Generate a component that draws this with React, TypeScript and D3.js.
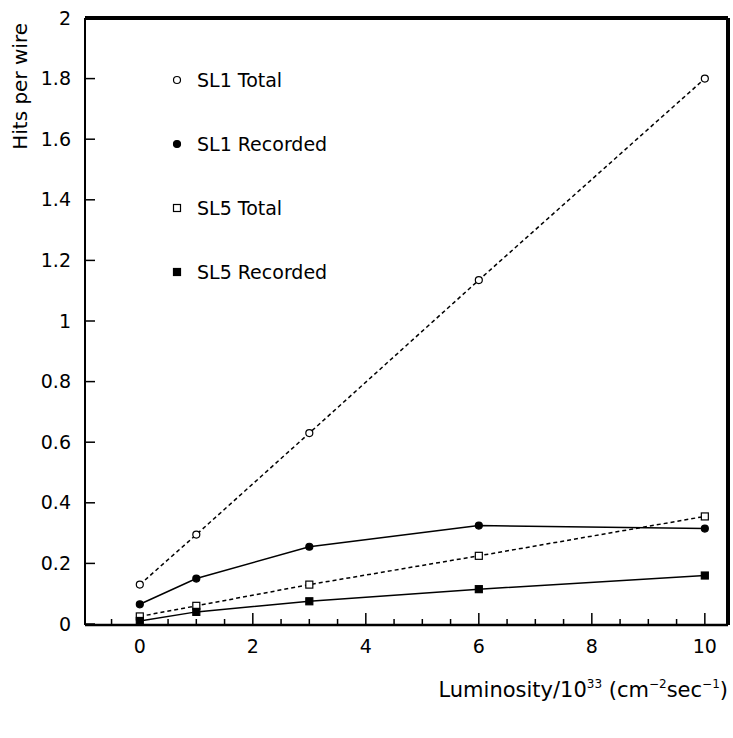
import React from "react";
import * as d3 from "d3";

const lum = [0, 1, 3, 6, 10];
const sl1Total = [0.13, 0.295, 0.63, 1.135, 1.8];
const sl1Rec = [0.065, 0.15, 0.255, 0.325, 0.315];
const sl5Total = [0.025, 0.06, 0.13, 0.225, 0.355];
const sl5Rec = [0.01, 0.04, 0.075, 0.115, 0.16];
const xTicks = [0, 2, 4, 6, 8, 10];
const yTicks = [0, 0.2, 0.4, 0.6, 0.8, 1, 1.2, 1.4, 1.6, 1.8, 2];

export default function App() {
  const L = 85, R = 728, T = 18, B = 625;
  const x = d3.scaleLinear().domain([-0.97, 10.41]).range([L, R]);
  const y = d3.scaleLinear().domain([0, 2]).range([B - 1, T]);
  const line = (ys: number[]) =>
    d3.line<number>().x((_, i) => x(lum[i])).y((v) => y(v))(ys) || "";
  const font = "'DejaVu Sans', sans-serif";
  const series = [
    { ys: sl1Total, dash: "4,3", mk: "oc", label: "SL1 Total" },
    { ys: sl1Rec, dash: "", mk: "fc", label: "SL1 Recorded" },
    { ys: sl5Total, dash: "4,3", mk: "os", label: "SL5 Total" },
    { ys: sl5Rec, dash: "", mk: "fs", label: "SL5 Recorded" },
  ];
  const marker = (mk: string, cx: number, cy: number, k: any) =>
    mk[1] === "c" ? (
      <circle key={k} cx={cx} cy={cy} r={3.5} fill={mk[0] === "f" ? "#000" : "#fff"} stroke="#000" strokeWidth={1.2} />
    ) : (
      <rect key={k} x={cx - 3.5} y={cy - 3.5} width={7} height={7} fill={mk[0] === "f" ? "#000" : "#fff"} stroke="#000" strokeWidth={1.2} />
    );
  return (
    <svg width={733} height={738} style={{ position: "absolute", left: 0, top: 0, background: "#fff" }} fontFamily={font}>
      <rect width={733} height={738} fill="#fff" />
      <line x1={L} y1={T} x2={R} y2={T} stroke="#000" strokeWidth={4} />
      <line x1={R} y1={T} x2={R} y2={B} stroke="#000" strokeWidth={4} />
      <line x1={L} y1={T} x2={L} y2={B} stroke="#000" strokeWidth={2} />
      <line x1={L} y1={B} x2={R} y2={B} stroke="#000" strokeWidth={2.5} />
      {yTicks.map((t) => (
        <g key={t}>
          <line x1={L} x2={L + 10} y1={y(t)} y2={y(t)} stroke="#000" strokeWidth={1.5} />
          <text x={L - 14} y={y(t)} dy="0.35em" textAnchor="end" fontSize={19}>{t}</text>
        </g>
      ))}
      {d3.range(-0.5, 10.5, 0.5).map((t) => (
        <line key={t} x1={x(t)} x2={x(t)} y1={B} y2={B - (t % 2 === 0 ? 12 : 6)} stroke="#000" strokeWidth={1.5} />
      ))}
      {xTicks.map((t) => (
        <text key={t} x={x(t)} y={B + 28} textAnchor="middle" fontSize={19}>{t}</text>
      ))}
      <text transform={`translate(27,${T + 5}) rotate(-90)`} textAnchor="end" fontSize={20}>Hits per wire</text>
      <text x={728} y={697} textAnchor="end" fontSize={21}>
        Luminosity/10<tspan dy={-9} fontSize={12}>33</tspan>
        <tspan dy={9}> (cm</tspan><tspan dy={-9} fontSize={12}>−2</tspan>
        <tspan dy={9}>sec</tspan><tspan dy={-9} fontSize={12}>−1</tspan><tspan dy={9}>)</tspan>
      </text>
      {series.map((s, si) => (
        <g key={si}>
          <path d={line(s.ys)} fill="none" stroke="#000" strokeWidth={1.5} strokeDasharray={s.dash} />
          {s.ys.map((v, i) => marker(s.mk, x(lum[i]), y(v), i))}
          {marker(s.mk, 177, 80 + si * 64, "l")}
          <text x={197} y={80 + si * 64} dy="0.35em" fontSize={19}>{s.label}</text>
        </g>
      ))}
    </svg>
  );
}
